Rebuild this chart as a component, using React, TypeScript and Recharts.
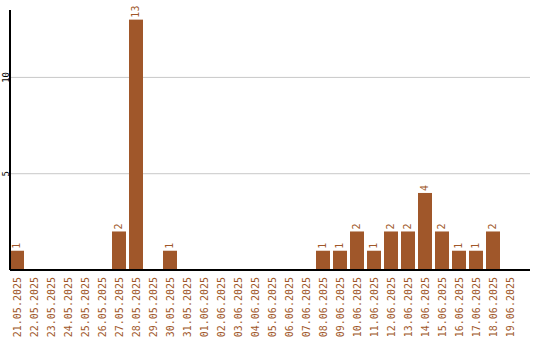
import { BarChart, Bar, XAxis, YAxis, CartesianGrid, LabelList } from 'recharts';

const DATES = [
  '21.05.2025', '22.05.2025', '23.05.2025', '24.05.2025', '25.05.2025', '26.05.2025',
  '27.05.2025', '28.05.2025', '29.05.2025', '30.05.2025', '31.05.2025', '01.06.2025',
  '02.06.2025', '03.06.2025', '04.06.2025', '05.06.2025', '06.06.2025', '07.06.2025',
  '08.06.2025', '09.06.2025', '10.06.2025', '11.06.2025', '12.06.2025', '13.06.2025',
  '14.06.2025', '15.06.2025', '16.06.2025', '17.06.2025', '18.06.2025', '19.06.2025',
];

const COUNTS = [1, 0, 0, 0, 0, 0, 2, 13, 0, 1, 0, 0, 0, 0, 0, 0, 0, 0, 1, 1, 2, 1, 2, 2, 4, 2, 1, 1, 2, 0];

const Y_TICKS = [5, 10];

const BROWN = '#a0572a';
const FONT = '"DejaVu Sans Mono", monospace';
const GAP = 3;

const data = DATES.map((date, i) => ({ date, count: COUNTS[i] }));

function BarShape(props: any) {
  const { x, y, width, height } = props;
  if (!height || height <= 0) return null;
  return <rect x={x} y={y} width={width - GAP} height={height} fill={BROWN} />;
}

function ValueLabel(props: any) {
  const { x, y, width, value } = props;
  if (!value) return null;
  const cx = x + (width - GAP) / 2;
  const ty = y - 2;
  return (
    <text
      x={cx}
      y={ty}
      transform={`rotate(-90 ${cx} ${ty})`}
      textAnchor="start"
      dominantBaseline="central"
      fontSize={10}
      fontFamily={FONT}
      fill={BROWN}
    >
      {value}
    </text>
  );
}

function DateTick(props: any) {
  const { x, payload } = props;
  const cx = x - GAP / 2;
  const ty = 277;
  return (
    <text
      x={cx}
      y={ty}
      transform={`rotate(-90 ${cx} ${ty})`}
      textAnchor="end"
      dominantBaseline="central"
      fontSize={10}
      fontFamily={FONT}
      fill={BROWN}
    >
      {payload.value}
    </text>
  );
}

function CountTick(props: any) {
  const { y, payload } = props;
  const cx = 6;
  return (
    <text
      x={cx}
      y={y}
      transform={`rotate(-90 ${cx} ${y})`}
      textAnchor="middle"
      dominantBaseline="central"
      fontSize={9}
      fontFamily={FONT}
      fill="#000"
    >
      {payload.value}
    </text>
  );
}

export default function App() {
  return (
    <div style={{ position: 'absolute', left: 0, top: 0, background: '#fff' }}>
      <BarChart
        width={540}
        height={340}
        data={data}
        margin={{ top: 10, right: 10, left: 0, bottom: 0 }}
        barCategoryGap={0}
        barGap={0}
      >
        <CartesianGrid vertical={false} stroke="#c8c8c8" horizontalValues={Y_TICKS} />
        <XAxis
          dataKey="date"
          interval={0}
          height={70}
          padding={{ left: 0, right: 10 }}
          tickLine={false}
          axisLine={{ stroke: '#000', strokeWidth: 2 }}
          tick={<DateTick />}
        />
        <YAxis
          width={10}
          domain={[0, 13.5]}
          ticks={Y_TICKS}
          tickLine={false}
          axisLine={{ stroke: '#000', strokeWidth: 2 }}
          tick={<CountTick />}
        />
        <Bar dataKey="count" shape={<BarShape />} isAnimationActive={false}>
          <LabelList dataKey="count" content={<ValueLabel />} />
        </Bar>
      </BarChart>
    </div>
  );
}
